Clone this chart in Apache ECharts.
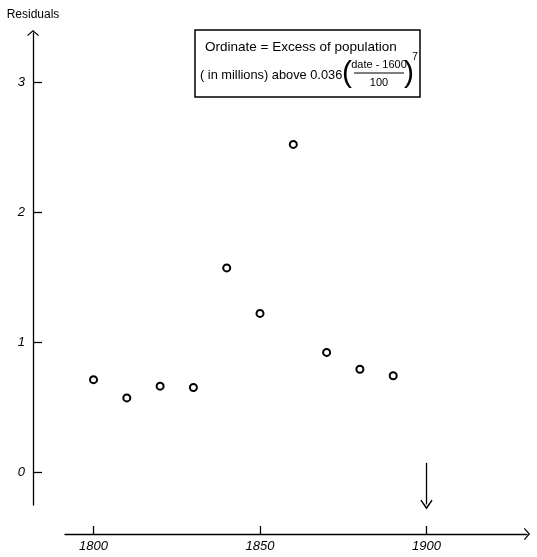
<!DOCTYPE html>
<html>
<head>
<meta charset="utf-8">
<script src="https://cdn.jsdelivr.net/npm/echarts@6/dist/echarts.min.js"></script>
<style>
  html, body { margin: 0; padding: 0; background: #fff; }
  #chart { width: 537px; height: 557px; }
</style>
</head>
<body>
<div id="chart"></div>
<script>
// Census years and residual population (millions) above the 7th-power fit
const years = [1800, 1810, 1820, 1830, 1840, 1850, 1860, 1870, 1880, 1890];
const residuals = [0.71, 0.57, 0.66, 0.65, 1.57, 1.22, 2.52, 0.92, 0.79, 0.74];

const xTicks = [1800, 1850, 1900];
const yTicks = [0, 1, 2, 3];

// Year flagged with a downward arrow, and the arrow's vertical extent
const flagYear = 1900;
const flagFrom = 0.07;
const flagTo = -0.25;

// Open chevron arrow head (points up in symbol space)
const chevron = 'path://M0,0 L10,9 L8.6,10.4 L0,2.8 L-8.6,10.4 L-10,9 Z';

const font = 'Liberation Sans';
const ink = '#000';
const boxFont = (px) => px + 'px "Liberation Sans"';

const chart = echarts.init(document.getElementById('chart'), null, { renderer: 'canvas' });

chart.setOption({
  animation: false,
  backgroundColor: '#fff',
  grid: { left: 65, right: 10, top: 33, bottom: 52 },
  xAxis: {
    type: 'value',
    min: 1791.44,
    max: 1930.18,
    position: 'bottom',
    offset: 29,
    axisLine: {
      show: true,
      onZero: false,
      symbol: ['none', chevron],
      symbolSize: [12, 10],
      lineStyle: { color: ink, width: 1.3 }
    },
    axisTick: {
      show: true, inside: true, length: 8,
      customValues: xTicks,
      lineStyle: { color: ink, width: 1.3 }
    },
    axisLabel: {
      show: true, margin: 6,
      customValues: xTicks,
      formatter: (v) => String(v),
      color: ink, fontFamily: font, fontSize: 13, fontStyle: 'italic'
    },
    splitLine: { show: false }
  },
  yAxis: {
    type: 'value',
    min: -0.254,
    max: 3.377,
    position: 'left',
    offset: 32,
    name: 'Residuals',
    nameLocation: 'end',
    nameGap: 12,
    nameTextStyle: { color: ink, fontFamily: font, fontSize: 12, align: 'center' },
    axisLine: {
      show: true,
      onZero: false,
      symbol: ['none', chevron],
      symbolSize: [12, 10],
      lineStyle: { color: ink, width: 1.3 }
    },
    axisTick: {
      show: true, inside: true, length: 9,
      customValues: yTicks,
      lineStyle: { color: ink, width: 1.3 }
    },
    axisLabel: {
      show: true, margin: 8,
      customValues: yTicks,
      color: ink, fontFamily: font, fontSize: 13, fontStyle: 'italic'
    },
    splitLine: { show: false }
  },
  series: [{
    type: 'scatter',
    clip: false,
    data: years.map((y, i) => [y, residuals[i]]),
    symbol: 'emptyCircle',
    symbolSize: 7,
    itemStyle: { color: ink, borderColor: ink, borderWidth: 1.8, opacity: 1 },
    markLine: {
      silent: true,
      symbol: ['none', chevron],
      symbolSize: [12, 10],
      label: { show: false },
      lineStyle: { color: ink, width: 1.3, type: 'solid' },
      data: [[{ coord: [flagYear, flagFrom] }, { coord: [flagYear, flagTo] }]]
    }
  }],
  graphic: [{
    type: 'group',
    children: [
      {
        type: 'rect',
        shape: { x: 195, y: 30, width: 225, height: 67 },
        style: { fill: 'none', stroke: ink, lineWidth: 1.5 }
      },
      {
        type: 'text', x: 205, y: 47,
        style: { text: 'Ordinate = Excess of population', fill: ink, font: boxFont(13.5), textVerticalAlign: 'middle' }
      },
      {
        type: 'text', x: 200, y: 75,
        style: { text: '( in millions) above 0.036', fill: ink, font: boxFont(12.8), textVerticalAlign: 'middle' }
      },
      {
        type: 'text', x: 347, y: 74,
        style: { text: '(', fill: ink, font: boxFont(30), textAlign: 'center', textVerticalAlign: 'middle' }
      },
      {
        type: 'text', x: 379, y: 65,
        style: { text: 'date - 1600', fill: ink, font: boxFont(11), textAlign: 'center', textVerticalAlign: 'middle' }
      },
      {
        type: 'line',
        shape: { x1: 354, y1: 73, x2: 404, y2: 73 },
        style: { stroke: ink, lineWidth: 1.2 }
      },
      {
        type: 'text', x: 379, y: 83,
        style: { text: '100', fill: ink, font: boxFont(11), textAlign: 'center', textVerticalAlign: 'middle' }
      },
      {
        type: 'text', x: 409, y: 74,
        style: { text: ')', fill: ink, font: boxFont(30), textAlign: 'center', textVerticalAlign: 'middle' }
      },
      {
        type: 'text', x: 415, y: 57,
        style: { text: '7', fill: ink, font: boxFont(10), textAlign: 'center', textVerticalAlign: 'middle' }
      }
    ]
  }]
});
</script>
</body>
</html>
